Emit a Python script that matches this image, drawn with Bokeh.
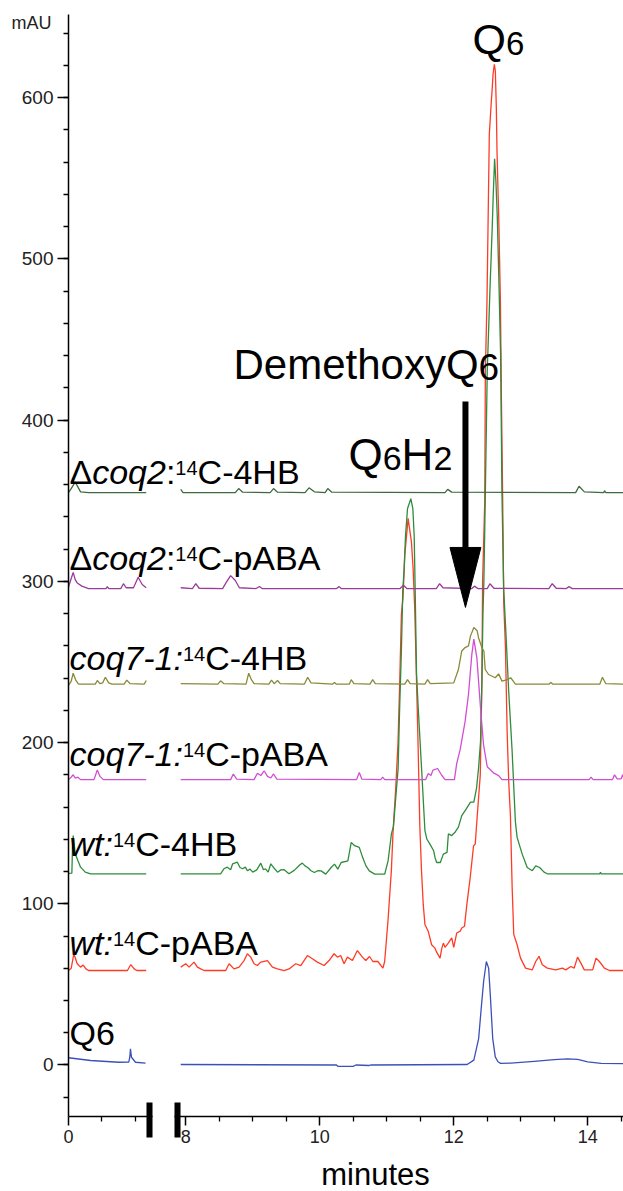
import numpy as np
from bokeh.plotting import figure
from bokeh.models import ColumnDataSource, FixedTicker, BoxAnnotation, Label
from bokeh.core.properties import value, field
from bokeh.embed import file_html
from bokeh.resources import INLINE

FONT = "Liberation Sans"

# ---------------- axis layout (broken time axis: 0-1.2 min, then 8-14.5 min)
EARLY_SHIFT = 6.25          # display offset of the early segment
X_VIEW = (5.235, 14.534)    # visible display range (whole canvas)
Y_VIEW = (-78.46, 660.24)
X_AXIS_BOUNDS = (6.25, 14.537)
Y_AXIS_BOUNDS = (-31.9, 651.6)

X_TICK_TIMES = [0, 8, 10, 12, 14]
X_TICK_LABELS = ["0", "8", "10", "12", "14"]
X_MINOR_TIMES = [0.5, 1.0, 8.5, 9.0, 9.5, 10.5, 11.0, 11.5, 12.5, 13.0, 13.5, 14.5]
Y_TICKS = [0, 100, 200, 300, 400, 500, 600]
Y_MINOR = list(range(-20, 641, 20))

# ---------------- traces (time in minutes, absorbance in mAU as stacked)
TRACE_NAMES = ["Δcoq2:14C-4HB", "Δcoq2:14C-pABA", "coq7-1:14C-4HB",
               "coq7-1:14C-pABA", "wt:14C-4HB", "wt:14C-pABA", "Q6"]
TRACE_COLORS = ["#3e6b3e", "#9a3c9a", "#8a8a3a", "#d24ed2", "#2e8c3c", "#ff3b26", "#3d50b8"]

DCOQ2_4HB_EARLY = [(0.0, 355.0), (0.04, 357.5), (0.1, 361.5), (0.18, 355.5), (0.3, 355.0), (1.16, 355.0)]
DCOQ2_4HB_LATE = [(7.925, 357.0), (7.96, 355.0), (8.74, 355.0), (8.79, 357.5), (8.85, 355.3), (9.26, 355.0),
                  (9.31, 357.5), (9.37, 355.3), (9.78, 355.0), (9.84, 358.0), (9.92, 355.5), (10.08, 355.0),
                  (10.12, 357.5), (10.18, 355.3), (11.87, 355.0), (11.91, 357.0), (11.97, 355.3), (13.82, 355.0),
                  (13.87, 359.0), (13.95, 355.5), (14.24, 355.0), (14.25, 356.2), (14.27, 355.0), (14.537, 355.0)]

DCOQ2_PABA_EARLY = [(0.0, 296.5), (0.05, 303.0), (0.07, 305.5), (0.1, 301.0), (0.13, 299.0), (0.2, 297.0),
                    (0.3, 295.5), (0.56, 295.5), (0.58, 296.7), (0.6, 295.5), (0.78, 295.5), (0.82, 298.5),
                    (0.86, 296.0), (0.97, 296.0), (1.04, 302.5), (1.1, 298.0), (1.16, 296.0)]
DCOQ2_PABA_LATE = [(7.925, 296.0), (8.1, 295.5), (8.15, 298.5), (8.2, 295.7), (8.55, 295.5), (8.6, 299.0),
                   (8.67, 303.5), (8.74, 300.5), (8.8, 296.0), (9.05, 295.5), (9.1, 296.8), (9.14, 295.5),
                   (10.25, 295.5), (10.29, 296.7), (10.32, 295.5), (11.2, 295.5), (11.25, 297.5), (11.3, 295.5),
                   (11.74, 295.5), (11.79, 298.5), (11.84, 296.0), (12.27, 295.5), (12.31, 297.0), (12.36, 295.5),
                   (12.5, 295.5), (12.54, 298.5), (12.6, 295.7), (13.42, 295.5), (13.47, 298.5), (13.53, 295.7),
                   (13.68, 295.5), (13.72, 296.7), (13.77, 295.5), (14.537, 295.5)]

COQ7_4HB_EARLY = [(0.0, 235.5), (0.04, 238.0), (0.07, 243.0), (0.11, 238.5), (0.15, 236.2), (0.4, 236.2),
                  (0.43, 238.5), (0.47, 236.5), (0.51, 237.0), (0.55, 240.5), (0.6, 237.0), (0.65, 236.2),
                  (0.83, 236.2), (0.87, 238.7), (0.92, 236.5), (1.13, 236.2), (1.16, 238.5)]
COQ7_4HB_LATE = [(7.925, 236.5), (8.48, 236.2), (8.52, 238.3), (8.57, 236.5), (8.9, 236.2), (8.94, 243.0),
                 (8.98, 239.0), (9.02, 236.5), (9.24, 236.2), (9.28, 238.7), (9.32, 236.5), (9.37, 238.5),
                 (9.41, 236.5), (9.77, 236.2), (9.82, 240.5), (9.87, 237.0), (10.19, 236.2), (10.22, 237.3),
                 (10.25, 236.2), (10.44, 236.2), (10.47, 239.0), (10.51, 236.5), (10.75, 236.2), (10.79, 239.0),
                 (10.83, 236.5), (11.27, 236.2), (11.31, 239.0), (11.35, 236.5), (11.57, 236.2), (11.61, 239.0),
                 (11.65, 236.5), (12.0, 237.0), (12.07, 245.3), (12.12, 256.8), (12.17, 258.9), (12.22, 260.0),
                 (12.25, 266.0), (12.3, 271.3), (12.35, 269.3), (12.37, 265.0), (12.42, 258.9), (12.45, 256.8),
                 (12.47, 245.3), (12.52, 242.2), (12.62, 240.2), (12.67, 242.6), (12.72, 238.1), (12.8, 239.0),
                 (12.85, 240.2), (12.92, 236.2), (13.42, 236.2), (13.45, 237.3), (13.48, 236.2), (14.18, 236.2),
                 (14.22, 240.5), (14.27, 236.5), (14.537, 236.2)]

COQ7_PABA_EARLY = [(0.0, 177.0), (0.04, 178.5), (0.07, 180.0), (0.1, 178.0), (0.14, 178.5), (0.18, 177.0),
                   (0.38, 177.0), (0.43, 183.0), (0.47, 179.0), (0.52, 177.0), (1.16, 177.0)]
COQ7_PABA_LATE = [(7.925, 177.0), (8.67, 177.0), (8.71, 180.5), (8.76, 177.3), (9.02, 177.0), (9.07, 181.0),
                  (9.12, 179.5), (9.17, 182.5), (9.22, 179.0), (9.27, 178.0), (9.31, 180.5), (9.36, 177.3),
                  (10.55, 177.0), (10.59, 181.4), (10.63, 177.3), (10.91, 177.0), (10.94, 178.5), (10.97, 177.0),
                  (11.58, 177.0), (11.62, 180.8), (11.66, 179.5), (11.69, 182.9), (11.76, 183.9), (11.82, 179.7),
                  (11.87, 177.0), (12.01, 177.0), (12.045, 187.1), (12.095, 195.4), (12.17, 213.1), (12.22, 229.8),
                  (12.27, 254.7), (12.3, 264.1), (12.345, 252.7), (12.4, 221.4), (12.445, 198.5), (12.5, 185.0),
                  (12.55, 183.0), (12.6, 181.0), (12.67, 179.5), (12.72, 177.0), (14.02, 177.0), (14.05, 178.5),
                  (14.08, 177.0), (14.37, 177.0), (14.4, 180.0), (14.44, 177.5), (14.5, 177.5), (14.52, 180.0),
                  (14.537, 178.0)]

WT_4HB_EARLY = [(0.0, 118.8), (0.05, 119.0), (0.06, 135.0), (0.07, 142.3), (0.1, 131.0), (0.14, 126.8),
                (0.18, 122.7), (0.25, 119.6), (0.33, 118.6), (1.16, 118.6)]
WT_4HB_LATE = [(7.925, 118.6), (8.52, 118.6), (8.57, 121.7), (8.62, 122.7), (8.67, 121.1), (8.70, 124.8),
               (8.77, 125.8), (8.81, 122.5), (8.85, 121.7), (8.89, 122.7), (8.92, 120.5), (8.96, 121.5),
               (9.0, 119.6), (9.06, 121.0), (9.12, 125.2), (9.16, 121.1), (9.19, 121.7), (9.23, 119.6),
               (9.27, 124.8), (9.32, 122.0), (9.37, 119.6), (9.42, 121.0), (9.47, 121.1), (9.54, 118.6),
               (9.62, 120.7), (9.70, 124.0), (9.74, 125.2), (9.78, 123.5), (9.82, 122.5), (9.87, 120.5),
               (9.92, 119.4), (9.97, 120.5), (10.02, 120.4), (10.09, 118.4), (10.17, 122.5), (10.22, 124.6),
               (10.27, 121.5), (10.32, 125.6), (10.42, 126.6), (10.47, 138.1), (10.52, 136.0), (10.59, 135.0),
               (10.64, 128.8), (10.69, 123.5), (10.74, 120.4), (10.82, 118.4), (10.97, 118.4), (11.02, 126.6),
               (11.07, 143.3), (11.10, 148.0), (11.17, 183.9), (11.19, 217.4), (11.22, 259.0), (11.24, 295.0),
               (11.26, 307.6), (11.28, 328.0), (11.31, 345.0), (11.36, 351.3), (11.39, 345.0), (11.41, 328.0),
               (11.425, 293.0), (11.445, 242.2), (11.47, 221.4), (11.52, 183.9), (11.57, 145.4), (11.60, 140.0),
               (11.645, 137.0), (11.70, 132.9), (11.72, 128.7), (11.745, 125.6), (11.80, 125.6), (11.845, 130.8),
               (11.90, 131.9), (11.92, 143.3), (11.97, 142.3), (12.02, 144.4), (12.07, 147.5), (12.12, 154.7),
               (12.19, 159.0), (12.25, 163.0), (12.30, 163.0), (12.34, 171.5), (12.37, 183.9), (12.40, 200.6),
               (12.42, 238.0), (12.436, 279.7), (12.45, 300.0), (12.47, 350.0), (12.50, 430.0), (12.54, 480.0),
               (12.575, 520.0), (12.59, 540.0), (12.61, 562.0), (12.63, 548.0), (12.65, 526.0), (12.675, 485.0),
               (12.70, 440.0), (12.72, 354.0), (12.746, 295.0), (12.78, 267.0), (12.82, 232.0), (12.87, 196.0),
               (12.92, 151.0), (12.946, 141.2), (13.022, 130.8), (13.097, 122.5), (13.172, 120.5), (13.224, 123.5),
               (13.282, 122.5), (13.348, 119.6), (13.397, 118.6), (14.18, 118.6), (14.19, 119.5), (14.2, 118.6),
               (14.537, 118.6)]

WT_PABA_EARLY = [(0.0, 58.6), (0.04, 60.0), (0.08, 69.0), (0.13, 62.8), (0.18, 60.7), (0.22, 62.0),
                 (0.26, 59.6), (0.3, 58.6), (0.88, 58.6), (0.93, 62.3), (0.98, 59.6), (1.02, 58.6), (1.16, 58.6)]
WT_PABA_LATE = [(7.925, 60.7), (8.0, 62.8), (8.05, 60.7), (8.124, 63.8), (8.174, 60.7), (8.224, 59.6),
                (8.274, 58.6), (8.597, 58.6), (8.647, 62.8), (8.721, 59.6), (8.796, 60.7), (8.871, 64.8),
                (8.92, 69.0), (8.97, 66.9), (9.02, 62.8), (9.07, 61.7), (9.119, 63.8), (9.219, 64.8),
                (9.294, 60.7), (9.368, 59.6), (9.468, 58.6), (9.542, 59.6), (9.642, 62.8), (9.716, 61.7),
                (9.816, 67.9), (9.89, 65.9), (9.965, 63.8), (10.065, 61.7), (10.139, 64.8), (10.214, 69.0),
                (10.264, 66.9), (10.313, 67.9), (10.363, 62.8), (10.413, 66.9), (10.488, 64.8), (10.562, 71.0),
                (10.637, 66.9), (10.687, 64.8), (10.743, 67.3), (10.793, 64.2), (10.868, 64.2), (10.943, 60.1),
                (10.969, 64.2), (11.018, 89.2), (11.069, 120.4), (11.094, 144.4), (11.134, 171.5), (11.169, 200.6),
                (11.194, 238.0), (11.219, 279.7), (11.243, 290.0), (11.269, 316.0), (11.319, 339.0), (11.369, 324.3),
                (11.394, 307.6), (11.418, 283.0), (11.445, 238.0), (11.469, 196.4), (11.494, 148.0), (11.519, 120.4),
                (11.545, 99.6), (11.57, 87.1), (11.619, 83.0), (11.67, 74.6), (11.719, 72.5), (11.745, 70.0),
                (11.796, 66.3), (11.82, 72.0), (11.845, 75.6), (11.87, 73.0), (11.921, 75.7), (11.97, 78.8),
                (12.0, 73.0), (12.045, 81.9), (12.096, 83.0), (12.12, 85.0), (12.161, 86.1), (12.196, 99.6),
                (12.246, 116.3), (12.296, 136.0), (12.321, 137.0), (12.346, 151.6), (12.37, 165.3), (12.396, 179.8),
                (12.421, 238.0), (12.431, 300.5), (12.463, 349.5), (12.472, 430.0), (12.496, 473.0), (12.51, 514.5),
                (12.531, 577.0), (12.561, 597.8), (12.572, 604.0), (12.587, 614.5), (12.606, 620.7), (12.621, 616.5),
                (12.636, 593.6), (12.646, 566.6), (12.672, 525.0), (12.697, 473.0), (12.712, 411.7), (12.731, 349.5),
                (12.746, 287.0), (12.772, 259.0), (12.797, 206.9), (12.821, 175.7), (12.846, 154.7), (12.872, 110.1),
                (12.896, 81.0), (12.946, 74.6), (12.997, 66.3), (13.072, 60.1), (13.172, 59.0), (13.224, 64.2),
                (13.273, 67.4), (13.322, 62.2), (13.397, 60.1), (13.522, 59.0), (13.622, 60.1), (13.672, 59.0),
                (13.748, 61.1), (13.798, 60.1), (13.848, 66.9), (13.898, 63.2), (13.949, 59.0), (14.074, 59.0),
                (14.124, 66.3), (14.174, 64.2), (14.249, 60.1), (14.324, 58.6), (14.537, 58.6)]

Q6_STD_EARLY = [(0.0, 4.5), (0.33, 2.8), (0.75, 1.7), (0.9, 1.8), (0.915, 5.0), (0.925, 10.0), (0.94, 4.8),
                (1.0, 1.7), (1.15, 1.1)]
Q6_STD_LATE = [(7.925, 0.3), (10.25, 0.0), (10.27, -0.8), (10.5, -0.8), (10.54, 0.0), (10.74, -0.3),
               (10.76, 0.0), (12.2, 0.3), (12.3, 3.0), (12.372, 16.4), (12.41, 35.0), (12.446, 51.8),
               (12.487, 64.2), (12.521, 60.1), (12.546, 43.4), (12.582, 16.4), (12.62, 5.0), (12.66, 2.0),
               (12.7, 1.0), (12.85, 1.2), (13.2, 2.3), (13.5, 3.3), (13.7, 3.8), (13.85, 3.5), (14.0, 2.0),
               (14.2, 1.0), (14.537, 0.8)]

TRACES = [
    (DCOQ2_4HB_EARLY, DCOQ2_4HB_LATE),
    (DCOQ2_PABA_EARLY, DCOQ2_PABA_LATE),
    (COQ7_4HB_EARLY, COQ7_4HB_LATE),
    (COQ7_PABA_EARLY, COQ7_PABA_LATE),
    (WT_4HB_EARLY, WT_4HB_LATE),
    (WT_PABA_EARLY, WT_PABA_LATE),
    (Q6_STD_EARLY, Q6_STD_LATE),
]

# styled trace labels: (text, style, font px, raise px)
TRACE_LABEL_RUNS = [
    [("Δ", "normal", 34, 0), ("coq2", "italic", 34, 0), (":", "normal", 34, 0), ("14", "normal", 20, -10), ("C-4HB", "normal", 34, 0)],
    [("Δ", "normal", 34, 0), ("coq2", "italic", 34, 0), (":", "normal", 34, 0), ("14", "normal", 20, -10), ("C-pABA", "normal", 34, 0)],
    [("coq7-1:", "italic", 34, 0), ("14", "normal", 20, -10), ("C-4HB", "normal", 34, 0)],
    [("coq7-1:", "italic", 34, 0), ("14", "normal", 20, -10), ("C-pABA", "normal", 34, 0)],
    [("wt:", "italic", 34, 0), ("14", "normal", 20, -10), ("C-4HB", "normal", 34, 0)],
    [("wt:", "italic", 34, 0), ("14", "normal", 20, -10), ("C-pABA", "normal", 34, 0)],
    [("Q6", "normal", 34, 0)],
]
TRACE_LABEL_T = [0.0] * 7
TRACE_LABEL_Y = [359.0, 305.7, 243.6, 183.7, 127.9, 66.9, 11.0]

# peak annotations
PEAK_LABEL_RUNS = [
    [("Q", "normal", 43, 0), ("6", "normal", 33, 0)],
    [("DemethoxyQ", "normal", 42, 0), ("6", "normal", 37, 0)],
    [("Q", "normal", 44, 0), ("6", "normal", 34, 0), ("H", "normal", 44, 0), ("2", "normal", 34, 0)],
]
PEAK_LABEL_T = [12.28, 8.713, 10.429]
PEAK_LABEL_Y = [624.9, 423.3, 366.9]

ARROW_T = 12.175
ARROW_TOP, ARROW_HEAD_BASE, ARROW_TIP = 411.5, 321.0, 283.8
ARROW_HALF_W = 0.231

BREAK_BARS = [(7.414, 7.504), (7.832, 7.922)]
BREAK_BAR_Y = (-45.0, -23.3)

PX_PER_MAU = 1.6123
BASELINE_FIX = 0.43   # em: alphabetic-baseline correction for the text renderer

# ---------------- helpers
ARIAL_W = {"Δ": 0.667, "c": 0.5, "o": 0.556, "q": 0.556, "2": 0.556, ":": 0.278, "1": 0.556, "4": 0.556,
           "C": 0.722, "-": 0.333, "H": 0.722, "B": 0.667, "p": 0.556, "A": 0.667, "7": 0.556, "w": 0.722,
           "t": 0.278, "Q": 0.778, "6": 0.556, "D": 0.722, "e": 0.556, "m": 0.833, "h": 0.556, "x": 0.5,
           "y": 0.5}


def text_width(s, size):
    return sum(ARIAL_W.get(ch, 0.556) for ch in s) * size


def disp(t):
    t = np.asarray(t, dtype=float)
    return np.where(t < 4, t + EARLY_SHIFT, t)


def runs_rows(t, v, runs, color, dx0=0.0, base_fs=None):
    rows = []
    off = dx0
    u = float(disp(t))
    if base_fs is None:
        base_fs = max(r[2] for r in runs)
    fix = -BASELINE_FIX * base_fs
    for text, st, fs, dy in runs:
        rows.append((u, v, text, f"{fs}px", st, off, dy + fix * 1.0 + (BASELINE_FIX * (base_fs - fs)), color))
        off += text_width(text, fs)
    return rows


# ---------------- figure (frame covers whole canvas; axes are pinned inside it)
p = figure(width=623, height=1191, x_range=X_VIEW, y_range=Y_VIEW,
           output_backend="svg", toolbar_location=None,
           min_border_left=0, min_border_right=0, min_border_top=0, min_border_bottom=0)
p.outline_line_color = None
p.xgrid.visible = False
p.ygrid.visible = False
p.background_fill_color = "white"
p.border_fill_color = "white"

order = [6, 5, 4, 3, 2, 1, 0]
for i in order:
    early, late = TRACES[i]
    for seg in (early, late):
        t, v = zip(*seg)
        p.line(x=disp(t), y=list(v), line_color=TRACE_COLORS[i], line_width=1.3)

# labels
rows = []
for i, runs in enumerate(TRACE_LABEL_RUNS):
    rows += runs_rows(TRACE_LABEL_T[i], TRACE_LABEL_Y[i], runs, "black", dx0=1.0)
for i, runs in enumerate(PEAK_LABEL_RUNS):
    rows += runs_rows(PEAK_LABEL_T[i], PEAK_LABEL_Y[i], runs, "black")
cols = list(zip(*rows))
src = ColumnDataSource(dict(x=list(cols[0]), y=list(cols[1]), text=list(cols[2]), size=list(cols[3]),
                            style=list(cols[4]), xo=list(cols[5]), yo=list(cols[6]), color=list(cols[7])))
p.text(x="x", y="y", text="text", source=src, text_font=value(FONT), text_font_size=field("size"),
       text_font_style=field("style"), x_offset=field("xo"), y_offset=field("yo"),
       text_color=field("color"), text_baseline="alphabetic", text_align="left")

# arrow to DemethoxyQ6
p.segment(x0=[ARROW_T], y0=[ARROW_TOP], x1=[ARROW_T], y1=[ARROW_HEAD_BASE],
          line_color="black", line_width=6, line_cap="butt")
p.patch(x=[ARROW_T - ARROW_HALF_W, ARROW_T + ARROW_HALF_W, ARROW_T],
        y=[ARROW_HEAD_BASE, ARROW_HEAD_BASE, ARROW_TIP],
        fill_color="black", line_color="black", line_width=1)

# axes pinned at the data origin of the plotting area
p.xaxis.fixed_location = Y_AXIS_BOUNDS[0]
p.yaxis.fixed_location = X_AXIS_BOUNDS[0]
p.xaxis.bounds = X_AXIS_BOUNDS
p.yaxis.bounds = Y_AXIS_BOUNDS
p.xaxis.ticker = FixedTicker(ticks=[float(x) for x in disp(X_TICK_TIMES)],
                             minor_ticks=[float(x) for x in disp(X_MINOR_TIMES)])
p.xaxis.major_label_overrides = {float(disp(t)): lab for t, lab in zip(X_TICK_TIMES, X_TICK_LABELS)}
p.yaxis.ticker = FixedTicker(ticks=Y_TICKS, minor_ticks=Y_MINOR)
for ax in (p.xaxis[0], p.yaxis[0]):
    ax.axis_line_color = "black"
    ax.axis_line_width = 1.5
    ax.major_tick_line_color = "black"
    ax.major_tick_line_width = 1.5
    ax.minor_tick_line_color = "black"
    ax.minor_tick_line_width = 1.3
    ax.major_tick_in = 0
    ax.minor_tick_in = 0
    ax.major_label_text_font = FONT
    ax.major_label_text_color = "#222222"
p.yaxis.major_label_text_font_size = "19px"
p.xaxis.major_label_text_font_size = "18px"
p.yaxis.major_tick_out = 11
p.yaxis.minor_tick_out = 5
p.yaxis.major_label_standoff = 4
p.xaxis.major_tick_out = 9
p.xaxis.minor_tick_out = 5
p.xaxis.major_label_standoff = 5

# axis break marks
p.add_layout(BoxAnnotation(left=BREAK_BARS[0][1], right=BREAK_BARS[1][0], bottom=-34.0, top=-29.8,
                           fill_color="white", fill_alpha=1.0, line_color=None, level="overlay"))
for l, r in BREAK_BARS:
    p.add_layout(BoxAnnotation(left=l, right=r, bottom=BREAK_BAR_Y[0], top=BREAK_BAR_Y[1],
                               fill_color="black", fill_alpha=1.0, line_color=None, level="overlay"))

p.add_layout(Label(x=5.399, y=641.2 + BASELINE_FIX * 18 / PX_PER_MAU, text="mAU", text_font=FONT,
                   text_font_size="18px", text_color="#222222", text_baseline="alphabetic", text_align="left"))
p.add_layout(Label(x=10.832, y=-76.0 + BASELINE_FIX * 31 / PX_PER_MAU, text="minutes", text_font=FONT,
                   text_font_size="31px", text_color="black", text_baseline="alphabetic", text_align="center"))

open("out.html", "w").write(file_html(p, INLINE))
